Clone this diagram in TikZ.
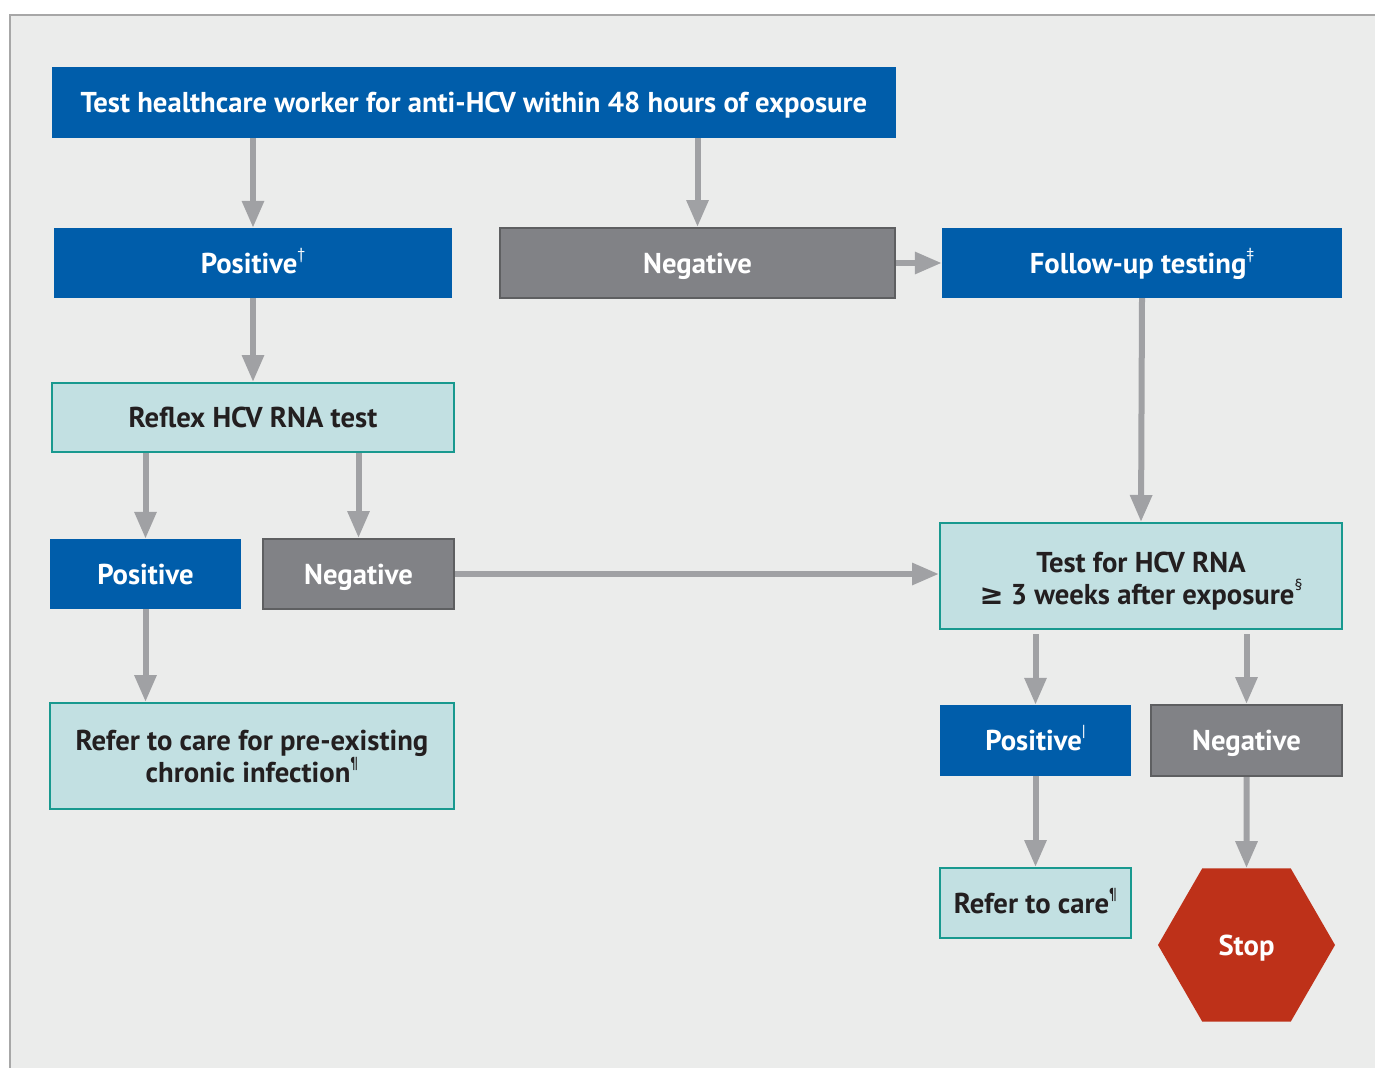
\documentclass[tikz,border=0pt]{standalone}
\usepackage{fontspec}
\setmainfont{PT Sans}
\newfontfamily\mathsym{DejaVu Sans}
\usepackage{tikz}
\usetikzlibrary{arrows.meta,shapes.geometric}

\definecolor{hcvblue}{HTML}{005DAA}
\definecolor{hcvgrey}{HTML}{818286}
\definecolor{hcvgreyline}{HTML}{5E5F61}
\definecolor{hcvteal}{HTML}{C2E0E2}
\definecolor{hcvtealline}{HTML}{18998F}
\definecolor{hcvarrow}{HTML}{A0A1A4}
\definecolor{hcvback}{HTML}{EBECEB}
\definecolor{hcvframe}{HTML}{A7A7A7}
\definecolor{hcvstop}{HTML}{BE3119}
\definecolor{hcvtext}{HTML}{231F20}

% small footnote marks
\newcommand{\fnmark}[1]{\raisebox{0.48em}{\fontsize{16}{16}\selectfont\mdseries #1}}

\begin{document}
\begin{tikzpicture}[x=1pt,y=-1pt,
    box/.style={rectangle,inner sep=0pt,align=center,font=\fontsize{28.7}{32}\selectfont\bfseries},
    oneline/.style={text height=27pt,text depth=7pt},
    bluebox/.style={box,fill=hcvblue,text=white},
    greybox/.style={box,fill=hcvgrey,draw=hcvgreyline,line width=2pt,text=white},
    tealbox/.style={box,fill=hcvteal,draw=hcvtealline,line width=2pt,text=hcvtext},
    flow/.style={draw=hcvarrow,line width=6pt,-{Triangle[length=27pt,width=21pt]}}]
    \useasboundingbox (0,0) rectangle (1375,1068);
    % background panel
    \fill[hcvback] (10,15) rectangle (1375,1068);
    \draw[hcvframe,line width=2pt] (10,1068) -- (10,15) -- (1375,15);

    \node[bluebox,oneline,minimum width=844pt,minimum height=71pt] (top) at (474,102.5) {Test healthcare worker for anti-HCV within 48 hours of exposure};
    \node[bluebox,oneline,minimum width=398pt,minimum height=70pt] (pos1) at (253,263) {Positive\fnmark{†}};
    \node[greybox,oneline,minimum width=395pt,minimum height=70pt] (neg1) at (697.5,263) {Negative};
    \node[bluebox,oneline,minimum width=400pt,minimum height=70pt] (follow) at (1142,263) {Follow-up testing\fnmark{‡}};
    \node[tealbox,oneline,minimum width=402pt,minimum height=69pt] (reflex) at (253,417.5) {Reflex HCV RNA test};
    \node[bluebox,oneline,minimum width=191pt,minimum height=70pt] (pos2) at (145.5,574) {Positive};
    \node[greybox,oneline,minimum width=191pt,minimum height=70pt] (neg2) at (358.5,574) {Negative};
    \node[tealbox,minimum width=402pt,minimum height=106pt] (rnatest) at (1141,576) {\rule{0pt}{30pt}Test for HCV RNA\\{\mathsym ≥} 3 weeks after exposure\fnmark{§}};
    \node[tealbox,minimum width=404pt,minimum height=106pt] (chronic) at (252,756) {Refer to care for pre-existing\\chronic infection\fnmark{¶}};
    \node[bluebox,oneline,minimum width=191pt,minimum height=71pt] (pos3) at (1035.5,740.5) {Positive\fnmark{|}};
    \node[greybox,oneline,minimum width=191pt,minimum height=71pt] (neg3) at (1246.5,740.5) {Negative};
    \node[tealbox,oneline,minimum width=191pt,minimum height=70pt] (refer) at (1035.5,903) {Refer to care\fnmark{¶}};
    \node[box,oneline,regular polygon,regular polygon sides=6,minimum size=177pt,fill=hcvstop,text=white] (stop) at (1246.5,945) {Stop};

    \draw[flow] (top.south -| pos1.north) -- (pos1.north);
    \draw[flow] (top.south -| neg1.north) -- (neg1.north);
    \draw[flow] (neg1.east) -- (follow.west);
    \draw[flow] (pos1.south) -- (reflex.north);
    \draw[flow] (reflex.south -| pos2.north) -- (pos2.north);
    \draw[flow] (reflex.south -| neg2.north) -- (neg2.north);
    \draw[flow] (neg2.east) -- (neg2.east -| rnatest.west);
    \draw[flow] (follow.south) -- (rnatest.north);
    \draw[flow] (pos2.south) -- (pos2.south |- chronic.north);
    \draw[flow,shorten <=4pt] (rnatest.south -| pos3.north) -- (pos3.north);
    \draw[flow,shorten <=4pt] (rnatest.south -| neg3.north) -- (neg3.north);
    \draw[flow] (pos3.south) -- (refer.north);
    \draw[flow] (neg3.south) -- (stop.north);
\end{tikzpicture}
\end{document}
